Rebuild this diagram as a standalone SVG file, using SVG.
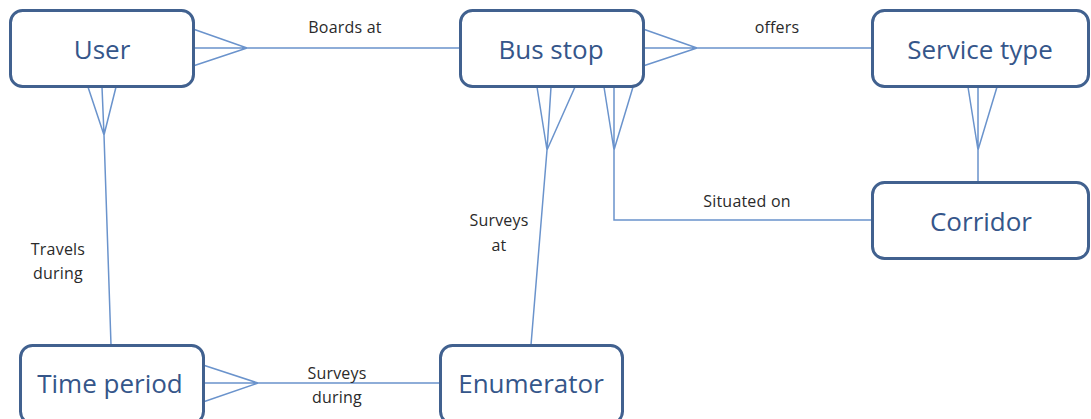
<svg xmlns="http://www.w3.org/2000/svg" width="1091" height="419" viewBox="0 0 1091 419">
<style>
.box{fill:#ffffff;stroke:#41618f;stroke-width:3}
.nt{font-family:"Open Sans","Liberation Sans",sans-serif;font-size:26px;fill:#35568a;text-anchor:middle}
.lb{font-family:"Open Sans","Liberation Sans",sans-serif;font-size:16px;fill:#2a2a2a;text-anchor:middle;letter-spacing:0.2px}
.cn{fill:none;stroke:#6a93cc;stroke-width:1.5;stroke-linejoin:miter}
</style>
<rect width="1091" height="419" fill="#ffffff"/>
<g id="connectors">
<path class="cn" d="M193,29 L247,48 M193,48 L460,48 M193,66 L247,48"/>
<path class="cn" d="M88,87 L104,135 M102,87 L104,135 L111,345 M116,87 L104,135"/>
<path class="cn" d="M643,29 L697,48 M643,48 L872,48 M643,66 L697,48"/>
<path class="cn" d="M537,87 L547,150 M551,87 L547,150 L531,345 M575,87 L547,150"/>
<path class="cn" d="M604,87 L614,150 M614,87 L614,220 L872,220 M633,87 L614,150"/>
<path class="cn" d="M968,87 L978,150 M978,87 L978,182 M997,87 L978,150"/>
<path class="cn" d="M203,365 L258,383 M203,383 L440,383 M203,402 L258,383"/>
<text class="lb" x="345" y="33">Boards at</text>
<text class="lb" x="777" y="33">offers</text>
<text class="lb" x="747" y="207">Situated on</text>
<text class="lb" x="499" y="226">Surveys</text>
<text class="lb" x="499" y="251">at</text>
<text class="lb" x="58" y="255">Travels</text>
<text class="lb" x="58" y="279">during</text>
<text class="lb" x="337" y="379">Surveys</text>
<text class="lb" x="337" y="403">during</text>
</g>
<g id="user"><rect class="box" x="10.5" y="10.5" width="183" height="76" rx="12"/><text class="nt" x="102" y="59">User</text></g>
<g id="bus-stop"><rect class="box" x="460.5" y="10.5" width="183" height="76" rx="12"/><text class="nt" x="551" y="59">Bus stop</text></g>
<g id="service-type"><rect class="box" x="872.5" y="10.5" width="216" height="76" rx="12"/><text class="nt" x="980" y="59">Service type</text></g>
<g id="corridor"><rect class="box" x="872.5" y="182.5" width="216" height="76" rx="12"/><text class="nt" x="981" y="231">Corridor</text></g>
<g id="time-period"><rect class="box" x="20.5" y="345.5" width="183" height="78" rx="12"/><text class="nt" x="110" y="393">Time period</text></g>
<g id="enumerator"><rect class="box" x="440.5" y="345.5" width="182" height="78" rx="12"/><text class="nt" x="531" y="393">Enumerator</text></g>
</svg>
